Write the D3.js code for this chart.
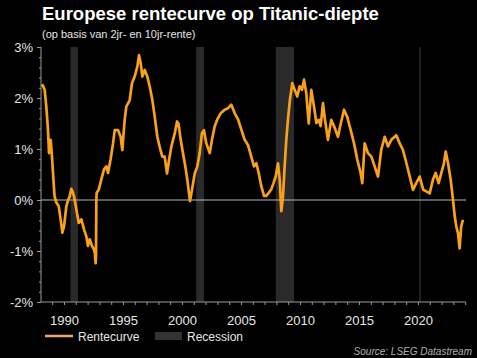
<!DOCTYPE html>
<html><head><meta charset="utf-8">
<script src="https://cdn.jsdelivr.net/npm/d3@7"></script>
<style>
html,body{margin:0;padding:0;background:#000;}
svg{display:block;font-family:"Liberation Sans",Arial,sans-serif;}
</style></head>
<body>
<svg id="c" width="477" height="358"></svg>
<script>
const years = [1988.08,1988.2,1988.36,1988.5,1988.64,1988.73,1988.87,1988.98,1989.12,1989.2,1989.35,1989.55,1989.72,1989.86,1990.0,1990.2,1990.35,1990.48,1990.62,1990.75,1990.85,1991.05,1991.25,1991.47,1991.7,1991.89,1992.03,1992.18,1992.37,1992.54,1992.62,1992.68,1992.71,1992.74,1992.77,1992.94,1993.16,1993.39,1993.59,1993.73,1993.95,1994.15,1994.3,1994.58,1994.8,1994.94,1995.14,1995.28,1995.57,1995.76,1995.99,1996.21,1996.36,1996.5,1996.64,1996.84,1997.06,1997.26,1997.48,1997.69,1997.91,1998.11,1998.33,1998.53,1998.73,1998.9,1999.09,1999.38,1999.58,1999.7,1999.89,2000.08,2000.28,2000.45,2000.59,2000.68,2000.85,2001.08,2001.3,2001.5,2001.69,2001.86,2002.06,2002.35,2002.54,2002.77,2002.99,2003.28,2003.62,2003.9,2004.18,2004.47,2004.75,2005.03,2005.31,2005.59,2005.87,2006.1,2006.3,2006.5,2006.72,2006.95,2007.14,2007.35,2007.57,2007.77,2007.94,2008.14,2008.28,2008.42,2008.56,2008.7,2008.84,2008.98,2009.15,2009.35,2009.55,2009.77,2009.97,2010.17,2010.34,2010.53,2010.74,2010.96,2011.19,2011.39,2011.59,2011.75,2011.95,2012.1,2012.37,2012.65,2012.9,2013.22,2013.4,2013.73,2014.0,2014.3,2014.58,2014.86,2015.14,2015.28,2015.48,2015.76,2016.05,2016.33,2016.61,2016.89,2017.18,2017.46,2017.74,2018.16,2018.45,2018.73,2019.02,2019.3,2019.58,2019.85,2020.14,2020.45,2020.7,2020.99,2021.27,2021.5,2021.75,2021.98,2022.2,2022.35,2022.55,2022.77,2022.97,2023.12,2023.25,2023.39,2023.53,2023.66,2023.81];
const spread = [2.23,2.25,2.16,1.83,1.38,0.92,1.18,0.85,0.34,0.07,-0.05,-0.12,-0.39,-0.64,-0.52,-0.12,0.0,0.07,0.22,0.15,0.07,-0.19,-0.45,-0.38,-0.58,-0.71,-0.9,-0.77,-0.9,-0.97,-1.05,-1.24,-1.1,0.0,0.14,0.2,0.4,0.6,0.66,0.53,0.8,1.1,1.37,1.37,1.24,0.98,1.57,1.83,1.96,2.29,2.42,2.61,2.84,2.68,2.42,2.55,2.42,2.23,1.97,1.63,1.24,1.04,0.85,0.85,0.52,0.78,1.04,1.3,1.54,1.5,1.18,0.92,0.66,0.4,0.14,-0.02,0.2,0.52,0.66,0.92,1.31,1.37,1.11,0.92,1.18,1.44,1.58,1.7,1.77,1.8,1.87,1.7,1.58,1.38,1.18,1.08,0.85,0.66,0.72,0.53,0.27,0.08,0.08,0.14,0.21,0.34,0.46,0.72,0.4,-0.22,0.07,0.66,1.18,1.58,1.97,2.29,2.16,2.03,2.23,2.16,2.36,2.1,1.5,2.16,1.83,1.51,1.57,1.45,1.9,1.6,1.18,1.57,1.44,1.24,1.44,1.77,1.63,1.37,1.11,0.79,0.53,0.33,1.11,0.92,0.85,0.66,0.46,0.99,1.24,1.05,1.18,1.27,1.11,0.98,0.72,0.46,0.2,0.33,0.46,0.2,0.17,0.13,0.4,0.53,0.33,0.53,0.72,0.95,0.72,0.4,0.0,-0.33,-0.52,-0.65,-0.95,-0.52,-0.39];
const recessionStart = [1990.55, 2001.2, 2007.95, 2020.12];
const recessionEnd   = [1991.18, 2001.87, 2009.5, 2020.24];
const yTicks = [-2,-1,0,1,2,3];
const xTicks = [1990,1995,2000,2005,2010,2015,2020];
const title = "Europese rentecurve op Titanic-diepte";
const subtitle = "(op basis van 2jr- en 10jr-rente)";
const source = "Source: LSEG Datastream";
const legendLabels = ["Rentecurve","Recession"];

(function(){
const svg = d3.select("#c");
const W = 477, H = 358;
const pL = 41, pR = 466, pT = 47, pB = 302;
const orange = "#f9a11b";

svg.append("rect").attr("width",W).attr("height",H).attr("fill","#000");

const x = d3.scaleLinear().domain([1988.05, 2024.07]).range([pL, pR]);
const y = d3.scaleLinear().domain([-2, 3]).range([pB, pT]);

// recessions
const rec = recessionStart.map((s,i)=>({s, e: recessionEnd[i]}));
svg.append("g").selectAll("rect").data(rec).join("rect")
  .attr("x", d=>x(d.s)).attr("width", d=>Math.max(1, x(d.e)-x(d.s)))
  .attr("y", pT).attr("height", pB-pT)
  .attr("fill", "#2a2a2a");

// zero line
svg.append("line").attr("x1", pL).attr("x2", pR)
  .attr("y1", y(0)).attr("y2", y(0))
  .attr("stroke", "#b8b8b8").attr("stroke-width", 1);

// y axis
const yAxisMinor = d3.axisLeft(y).tickValues(d3.range(-2, 3.001, 0.2)).tickSize(2).tickFormat("");
const gyMinor = svg.append("g").attr("transform", `translate(${pL},0)`).call(yAxisMinor);
const yAxis = d3.axisLeft(y).tickValues(yTicks).tickSize(4).tickPadding(4).tickFormat(d=>d+"%");
const gy = svg.append("g").attr("transform", `translate(${pL},0)`).call(yAxis);
[gy, gyMinor].forEach(g=>{
  g.select(".domain").attr("stroke","#9a9a9a");
  g.selectAll(".tick line").attr("stroke","#9a9a9a");
});
gy.selectAll(".tick text").attr("fill","#e6e6e6").attr("font-size",13)
  .attr("font-family","Liberation Sans, Arial, sans-serif");
gy.select(".domain").attr("d", `M0,${pT}V${pB}`);
gyMinor.select(".domain").remove();

// x axis
const xMinor = d3.axisBottom(x).tickValues(d3.range(1989, 2025, 1)).tickSize(3).tickFormat("");
const gxm = svg.append("g").attr("transform", `translate(0,${pB})`).call(xMinor);
gxm.select(".domain").attr("stroke","#9a9a9a").attr("d", `M${pL},0H${pR}`);
gxm.selectAll(".tick line").attr("stroke","#9a9a9a");
const xAxis = d3.axisBottom(x).tickValues(xTicks).tickSize(0).tickPadding(14).tickFormat(d3.format("d"));
const gx = svg.append("g").attr("transform", `translate(0,${pB})`).call(xAxis);
gx.select(".domain").remove();
gx.selectAll(".tick text").attr("fill","#e6e6e6").attr("font-size",13)
  .attr("font-family","Liberation Sans, Arial, sans-serif");

// line
const data = years.map((yr,i)=>({yr, v: spread[i]}));
const line = d3.line().x(d=>x(d.yr)).y(d=>y(d.v)).curve(d3.curveLinear);
svg.append("path").datum(data).attr("d", line)
  .attr("fill","none").attr("stroke", orange).attr("stroke-width", 2.7)
  .attr("stroke-linejoin","round");

// titles
svg.append("text").attr("x", 42).attr("y", 20).text(title)
  .attr("fill","#fff").attr("font-size",18.5).attr("font-weight","bold");
svg.append("text").attr("x", 42).attr("y", 38).text(subtitle)
  .attr("fill","#e6e6e6").attr("font-size",11);

// legend
svg.append("line").attr("x1",45).attr("x2",73).attr("y1",336).attr("y2",336)
  .attr("stroke","#f2a766").attr("stroke-width",2.5);
svg.append("text").attr("x",78).attr("y",340.5).text(legendLabels[0])
  .attr("fill","#e6e6e6").attr("font-size",12);
svg.append("rect").attr("x",155).attr("y",332).attr("width",27).attr("height",8)
  .attr("fill","#333");
svg.append("text").attr("x",187).attr("y",340.5).text(legendLabels[1])
  .attr("fill","#e6e6e6").attr("font-size",12);

// source
svg.append("text").attr("x",472).attr("y",355).attr("text-anchor","end").text(source)
  .attr("fill","#b0b0b0").attr("font-size",10).attr("font-style","italic");
})();
</script>
</body></html>
